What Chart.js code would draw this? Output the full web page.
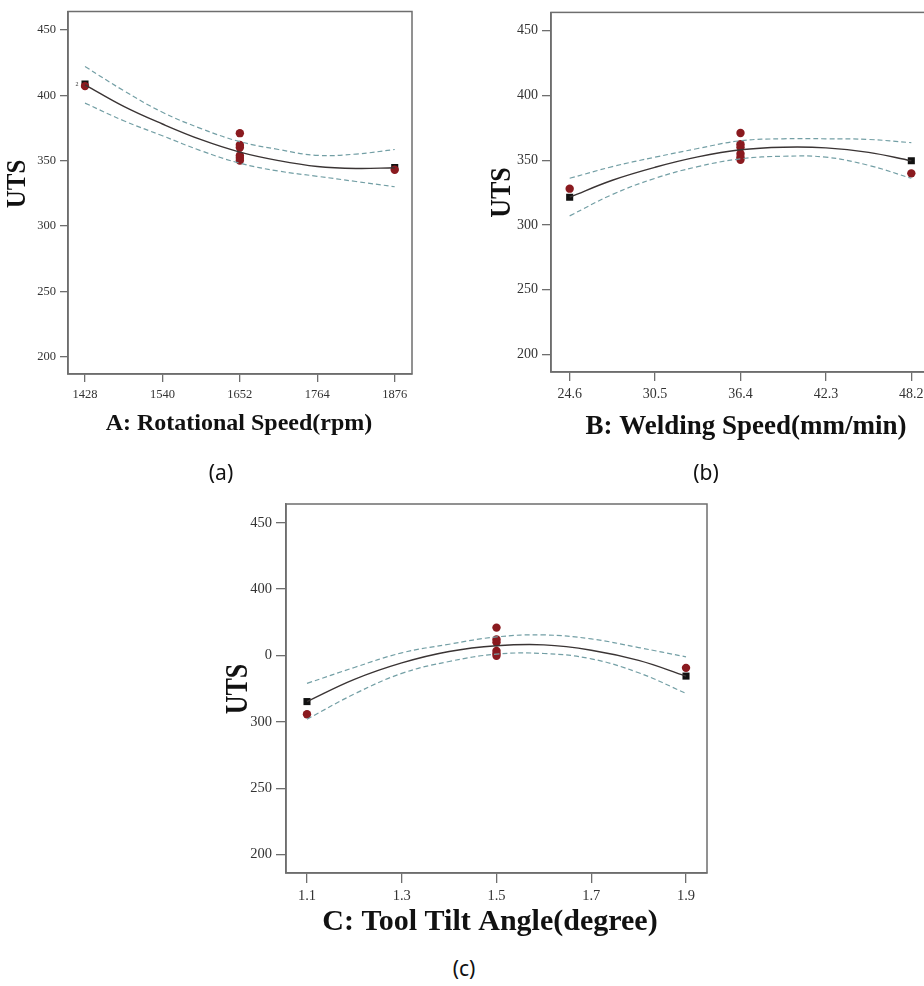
<!DOCTYPE html>
<html><head><meta charset="utf-8">
<script src="https://cdn.jsdelivr.net/npm/chart.js@4.4.0/dist/chart.umd.min.js"></script>
<style>
html,body{margin:0;padding:0;background:#fff;overflow:hidden;width:924px;height:986px;}
.panel{position:absolute;}
.cap{position:absolute;font-family:'Noto Sans',sans-serif;font-size:21px;color:#111;transform:translate(-50%,-50%);line-height:1;white-space:nowrap;}
</style></head><body>
<div class="panel" style="left:0;top:0;width:460px;height:445px"><canvas id="ca" width="460" height="445"></canvas></div>
<div class="panel" style="left:460px;top:0;width:480px;height:445px"><canvas id="cb" width="480" height="445"></canvas></div>
<div class="panel" style="left:200px;top:480px;width:520px;height:470px"><canvas id="cc" width="520" height="470"></canvas></div>
<div class="cap" style="left:221px;top:472px">(a)</div>
<div class="cap" style="left:706px;top:472px">(b)</div>
<div class="cap" style="left:464px;top:968px">(c)</div>
<script>
// ---------- data ----------
const yTickValues = [200, 250, 300, 350, 400, 450];
const aYLabels = ['200', '250', '300', '350', '400', '450'];
const bYLabels = ['200', '250', '300', '350', '400', '450'];
const cYLabels = ['200', '250', '300', '0', '400', '450'];

// (a) Rotational speed
const aXTicks = [1428, 1540, 1652, 1764, 1876];
const aX = [1428, 1484, 1540, 1596, 1652, 1708, 1764, 1820, 1876];
const aFit = [408, 391.5, 378, 366, 356.5, 350, 345.5, 344, 344.5];
const aUpper = [422, 403.5, 387, 374.5, 364.5, 358.5, 354, 355, 358.5];
const aLower = [394, 380.5, 369, 357.5, 348, 342, 338, 334, 330];
const aSqX = [1428, 1876];
const aSqY = [408.5, 344.7];
const aCircX = [1428, 1652, 1652, 1652, 1652, 1652, 1652, 1876];
const aCircY = [407, 371, 362, 360, 354, 352, 350, 343];

// (b) Welding speed
const bXTicks = [24.6, 30.5, 36.4, 42.3, 48.2];
const bX = [24.6, 27.55, 30.5, 33.45, 36.4, 39.35, 42.3, 45.25, 48.2];
const bFit = [321.4, 334.5, 344.5, 352.5, 358, 360, 359.5, 356, 349.5];
const bUpper = [336, 345, 352.3, 359, 365, 366.5, 366.5, 366, 363.5];
const bLower = [307, 323.5, 336, 345, 351, 353, 352.3, 346, 336];
const bSqX = [24.6, 48.2];
const bSqY = [321.4, 349.5];
const bCircX = [24.6, 36.4, 36.4, 36.4, 36.4, 36.4, 36.4, 48.2];
const bCircY = [328, 371, 362.3, 360, 355, 352.3, 350.3, 339.8];

// (c) Tool tilt angle
const cXTicks = [1.1, 1.3, 1.5, 1.7, 1.9];
const cX = [1.1, 1.2, 1.3, 1.4, 1.5, 1.6, 1.7, 1.8, 1.9];
const cFit = [315.3, 332, 344.4, 353, 357.3, 358, 354, 346.3, 334.5];
const cUpper = [329, 341, 352, 358.5, 364, 365.5, 362.5, 356, 349];
const cLower = [302, 321, 336.5, 345.5, 351, 351.5, 347.5, 337, 321.5];
const cSqX = [1.1, 1.9];
const cSqY = [315.3, 334.5];
const cCircX = [1.1, 1.5, 1.5, 1.5, 1.5, 1.5, 1.5, 1.9];
const cCircY = [305.8, 371, 362.1, 359.9, 353.5, 351.6, 349.8, 340.7];

// ---------- helpers ----------
const pts = (xs, ys) => xs.map((x, i) => ({x: x, y: ys[i]}));
const RED = '#8a1a1f', FIT = '#3a3434', CI = '#739fa5', AXIS = '#6e6e6e';

const framePlugin = {
  id: 'frame',
  beforeDatasetsDraw(chart) {
    const {left, top, right, bottom} = chart.chartArea;
    const ctx = chart.ctx;
    ctx.save();
    ctx.strokeStyle = AXIS; ctx.lineWidth = 1.5;
    ctx.strokeRect(left, top, right - left, bottom - top);
    ctx.restore();
  }
};
const textPlugin = {
  id: 'texts',
  afterDraw(chart, args, opts) {
    const ctx = chart.ctx;
    (opts.items || []).forEach(t => {
      let x = t.x, y = t.y;
      if (t.dataX !== undefined) {
        x = chart.scales.x.getPixelForValue(t.dataX) + t.dx;
        y = chart.scales.y.getPixelForValue(t.dataY) + t.dy;
      }
      ctx.save();
      ctx.translate(x, y);
      if (t.sx) ctx.scale(t.sx, 1);
      if (t.rot) ctx.rotate(t.rot);
      ctx.font = t.font; ctx.fillStyle = t.color || '#111';
      ctx.textAlign = t.align || 'center';
      ctx.textBaseline = t.baseline || 'middle';
      ctx.fillText(t.text, 0, 0);
      ctx.restore();
    });
  }
};

function makeChart(id, o) {
  const ctx = document.getElementById(id);
  return new Chart(ctx, {
    type: 'scatter',
    data: {
      datasets: [
        {data: pts(o.x, o.upper), showLine: true, borderColor: CI, borderWidth: 1.2, borderDash: [5, 3], pointRadius: 0, tension: 0.4, fill: false},
        {data: pts(o.x, o.lower), showLine: true, borderColor: CI, borderWidth: 1.2, borderDash: [5, 3], pointRadius: 0, tension: 0.4, fill: false},
        {data: pts(o.x, o.fit), showLine: true, borderColor: FIT, borderWidth: 1.4, pointRadius: 0, tension: 0.4, fill: false},
        {data: pts(o.circX, o.circY), showLine: false, pointStyle: 'circle', pointRadius: 4.2, backgroundColor: RED, borderColor: RED, borderWidth: 0},
        {data: pts(o.sqX, o.sqY), showLine: false, pointStyle: 'rect', pointRadius: 5, backgroundColor: '#111', borderColor: '#111', borderWidth: 0}
      ]
    },
    options: {
      responsive: false, animation: false, events: [],
      layout: {padding: {left: 0, top: o.T, right: o.W - o.R, bottom: 0}},
      plugins: {legend: {display: false}, tooltip: {enabled: false}, texts: {items: o.texts}},
      scales: {
        x: {
          type: 'linear', min: o.xmin, max: o.xmax,
          afterBuildTicks: s => { s.ticks = o.xTicks.map(v => ({value: v})); },
          afterFit: s => { s.height = o.H - o.B; },
          grid: {display: true, drawOnChartArea: false, drawTicks: true, tickLength: o.tl, color: AXIS, lineWidth: 1.3},
          border: {display: true, color: AXIS, width: 1.5},
          ticks: {padding: o.xpad, color: '#333', font: {family: 'Liberation Serif', size: o.fs},
                  callback: v => String(v)}
        },
        y: {
          type: 'linear', min: o.ymin, max: o.ymax,
          afterBuildTicks: s => { s.ticks = yTickValues.map(v => ({value: v})); },
          afterFit: s => { s.width = o.L; },
          grid: {display: true, drawOnChartArea: false, drawTicks: true, tickLength: o.tl, color: AXIS, lineWidth: 1.3},
          border: {display: true, color: AXIS, width: 1.5},
          ticks: {padding: o.ypad, color: '#333', font: {family: 'Liberation Serif', size: o.fs},
                  callback: v => o.yLabels[yTickValues.indexOf(v)]}
        }
      }
    },
    plugins: [framePlugin, textPlugin]
  });
}

// (a)
makeChart('ca', {
  W: 460, H: 445, L: 68, T: 6, R: 412, B: 374, tl: 8, xpad: 5, ypad: 4, fs: 12.5,
  xmin: 1403.4, xmax: 1901, ymin: 186.7, ymax: 464.1,
  xTicks: aXTicks, yLabels: aYLabels,
  x: aX, fit: aFit, upper: aUpper, lower: aLower,
  sqX: aSqX, sqY: aSqY, circX: aCircX, circY: aCircY,
  texts: [
    {text: 'A: Rotational Speed(rpm)', x: 239, y: 430, font: 'bold 24px "Liberation Serif"', baseline: 'alphabetic'},
    {text: 'UTS', x: 18, y: 184, font: 'bold 25px "Liberation Serif"', rot: -Math.PI / 2, sx: 1.1},
    {text: '2', dataX: 1428, dataY: 408.5, dx: -8, dy: 0, font: '6px "Liberation Serif"', color: '#333'}
  ]
});
// (b)
makeChart('cb', {
  W: 480, H: 445, L: 91, T: 3, R: 470, B: 372, tl: 9, xpad: 5, ypad: 4, fs: 14,
  xmin: 23.31, xmax: 49.49, ymin: 186.46, ymax: 464.07,
  xTicks: bXTicks, yLabels: bYLabels,
  x: bX, fit: bFit, upper: bUpper, lower: bLower,
  sqX: bSqX, sqY: bSqY, circX: bCircX, circY: bCircY,
  texts: [
    {text: 'B: Welding Speed(mm/min)', x: 286, y: 434, font: 'bold 27px "Liberation Serif"', baseline: 'alphabetic'},
    {text: 'UTS', x: 42.5, y: 192.5, font: 'bold 26px "Liberation Serif"', rot: -Math.PI / 2, sx: 1.1}
  ]
});
// (c)
makeChart('cc', {
  W: 520, H: 470, L: 86, T: 24, R: 507, B: 393, tl: 10, xpad: 4, ypad: 4, fs: 14.5,
  xmin: 1.0557, xmax: 1.9443, ymin: 186.2, ymax: 464.1,
  xTicks: cXTicks, yLabels: cYLabels,
  x: cX, fit: cFit, upper: cUpper, lower: cLower,
  sqX: cSqX, sqY: cSqY, circX: cCircX, circY: cCircY,
  texts: [
    {text: 'C: Tool Tilt Angle(degree)', x: 290, y: 450, font: 'bold 30px "Liberation Serif"', baseline: 'alphabetic'},
    {text: 'UTS', x: 39, y: 209, font: 'bold 26px "Liberation Serif"', rot: -Math.PI / 2, sx: 1.25}
  ]
});
</script>
</body></html>
